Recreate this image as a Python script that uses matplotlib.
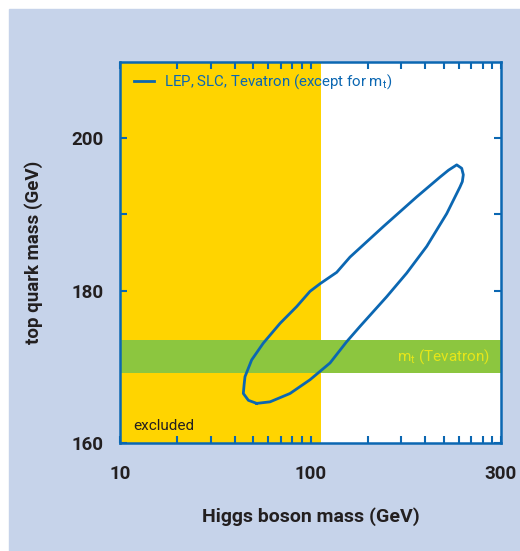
import numpy as np
import matplotlib
matplotlib.use("Agg")
import matplotlib.pyplot as plt
from matplotlib.patches import Rectangle
from matplotlib.ticker import FixedLocator, LogLocator, NullFormatter

plt.rcParams['font.family'] = ['Roboto', 'DejaVu Sans']

# data
higgs_contour = [52.2, 47.2, 44.4, 44.8, 45.3, 49.1, 56.5, 69.2, 84.6, 99.4, 112.2,
                 137.3, 161.2, 241.1, 361.0, 478.6, 530.0, 585.5, 622.0, 634.1, 626.6,
                 609.0, 518.8, 407.4, 319.9, 251.2, 181.9, 154.9, 126.6, 99.4, 78.1, 61.3]
top_contour = [165.2, 165.6, 166.5, 167.6, 168.7, 170.9, 173.1, 175.7, 177.9, 179.9, 180.9,
               182.4, 184.4, 188.4, 192.3, 194.9, 195.8, 196.5, 196.05, 195.2, 194.3,
               193.6, 190.1, 185.8, 182.3, 179.2, 175.3, 173.3, 170.5, 168.3, 166.5, 165.4]
excluded_limit = 114.0
mt_band = [169.2, 173.5]
x_ticks = [10, 100, 1000]
x_ticklabels = ['10', '100', '300']
y_ticks = [160, 180, 200]

blue = '#0b67b2'
yellow = '#ffd400'
green = '#8cc63f'
dark = '#231f20'

fig = plt.figure(figsize=(5.2, 5.51), dpi=100)
fig.patches.append(Rectangle((9 / 520, 0), 1, (551 - 9) / 551,
                             transform=fig.transFigure, color='#c6d3ea', zorder=-10))

ax = fig.add_axes([120 / 520, (551 - 443) / 551, 381 / 520, 381 / 551])
ax.set_facecolor('white')
ax.set_xscale('log')
ax.set_xlim(10, 1000)
ax.set_ylim(160, 210)

ax.axvspan(10, excluded_limit, color=yellow, lw=0, zorder=1)
ax.axhspan(mt_band[0], mt_band[1], color=green, lw=0, zorder=2)

hx = higgs_contour + higgs_contour[:1]
ty = top_contour + top_contour[:1]
ax.plot(hx, ty, color=blue, lw=2.0, solid_joinstyle='round', zorder=3,
        label='LEP, SLC, Tevatron (except for m$_\\mathregular{t}$)')

leg = ax.legend(loc='upper left', frameon=False, handlelength=1.3, handletextpad=0.7,
                borderaxespad=0.3, fontsize=10.8, bbox_to_anchor=(0.01, 1.0))
for t in leg.get_texts():
    t.set_color(blue)

ax.text(0.035, 0.045, 'excluded', transform=ax.transAxes, color=dark,
        fontsize=11, ha='left', va='center')
ax.text(0.97, np.mean(mt_band), 'm$_\\mathregular{t}$ (Tevatron)',
        transform=ax.get_yaxis_transform(), color='#e6e619', fontsize=11,
        ha='right', va='center', zorder=4)

ax.xaxis.set_major_locator(FixedLocator(x_ticks))
ax.set_xticklabels(x_ticklabels)
ax.xaxis.set_minor_locator(LogLocator(base=10, subs=np.arange(2, 10)))
ax.xaxis.set_minor_formatter(NullFormatter())
ax.set_yticks(y_ticks)
ax.yaxis.set_minor_locator(FixedLocator([170, 190]))

ax.tick_params(which='both', direction='in', top=True, right=True,
               color=blue, width=1.5, length=5, zorder=5)
ax.tick_params(which='major', labelsize=13.5, labelcolor=dark)
ax.tick_params(axis='x', which='major', pad=16)
ax.tick_params(axis='y', which='major', pad=12)
for lab in ax.get_xticklabels() + ax.get_yticklabels():
    lab.set_fontweight('bold')

for s in ax.spines.values():
    s.set_color(blue)
    s.set_linewidth(1.8)
    s.set_zorder(6)

ax.set_xlabel('Higgs boson mass (GeV)', fontsize=14, fontweight='bold',
              color=dark, labelpad=17)
ax.set_ylabel('top quark mass (GeV)', fontsize=13.5, fontweight='bold',
              color=dark, labelpad=20)

fig.savefig('out.png', dpi=100)
